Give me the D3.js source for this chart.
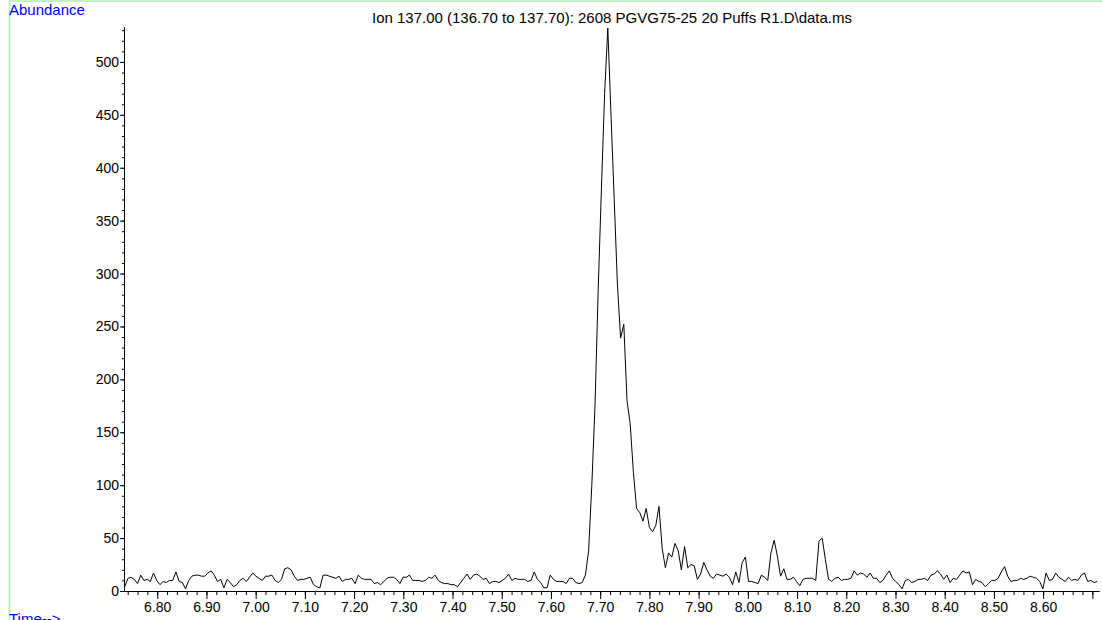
<!DOCTYPE html>
<html>
<head>
<meta charset="utf-8">
<script src="https://cdn.jsdelivr.net/npm/d3@7"></script>
<style>
  body { margin: 0; background: #fff; }
  svg { display: block; font-family: "Liberation Sans", Arial, sans-serif; }
</style>
</head>
<body>
<svg width="1102" height="620"></svg>
<script>

// scan times are regular: first scan + step * i (minutes)
let scanStart = 6.734,
    scanStep = 0.0065;

// abundance per scan
let abundance = [
  4,12,13,11,7,15,10,11,9,17,
  10,6,9,8,10,10,18,9,8,2,
  10,14,15,15,14,14,17,19,15,9,
  11,3,11,8,4,6,10,12,9,13,
  17,14,12,10,14,14,15,10,8,11,
  21,22,20,14,10,11,11,12,13,6,
  4,3,15,15,14,13,12,14,9,11,
  11,12,7,15,12,11,11,11,7,8,
  6,9,12,13,13,11,7,13,13,15,
  10,10,10,9,10,13,12,15,10,8,
  7,7,6,6,4,8,12,16,11,15,
  16,14,11,12,7,9,9,8,10,12,
  16,10,12,11,11,11,9,10,18,11,
  8,3,3,15,11,9,9,9,7,12,
  12,8,7,8,15,38,100,175,285,380,
  470,532,450,370,290,239,252,180,158,112,
  78,74,66,78,60,56,62,80,40,22,
  36,32,45,38,20,42,22,25,24,11,
  16,27,20,14,12,16,15,14,16,13,
  6,18,8,27,32,9,9,8,7,15,
  13,10,36,48,33,14,21,11,11,13,
  9,5,11,12,12,12,10,47,50,30,
  11,9,12,13,10,11,11,12,19,15,
  17,16,13,17,12,12,8,10,15,19,
  12,9,6,2,10,11,8,9,11,11,
  12,10,15,16,19,16,11,15,8,12,
  11,15,19,17,18,6,11,9,8,4,
  7,10,10,12,18,23,14,9,10,10,
  12,11,12,14,13,12,9,2,17,10,
  11,17,13,11,9,13,10,11,10,15,
  17,9,10,8,9
];

let timeRange = [6.7325, 8.7135],
    abundanceRange = [0, 533];

let xMajor = [6.8, 6.9, 7.0, 7.1, 7.2, 7.3, 7.4, 7.5, 7.6, 7.7, 7.8, 7.9, 8.0, 8.1, 8.2, 8.3, 8.4, 8.5, 8.6, 8.7],
    xLabelled = [6.8, 6.9, 7.0, 7.1, 7.2, 7.3, 7.4, 7.5, 7.6, 7.7, 7.8, 7.9, 8.0, 8.1, 8.2, 8.3, 8.4, 8.5, 8.6],
    yMajor = [0, 50, 100, 150, 200, 250, 300, 350, 400, 450, 500];

let title = "Ion 137.00 (136.70 to 137.70): 2608 PGVG75-25 20 Puffs R1.D\\data.ms";

let svg = d3.select("svg"),
    margin = {top: 27, right: 3, bottom: 29, left: 124},
    width = 1102 - margin.left - margin.right,
    height = 620 - margin.top - margin.bottom;

let points = abundance.map(function(v, i) { return [scanStart + scanStep * i, v]; });

let x = d3.scaleLinear().domain(timeRange).range([0, width]);
let y = d3.scaleLinear().domain(abundanceRange).range([height, 0]);

// minor ticks every 0.02 min and every 10 counts
let xMinor = d3.range(337, 436).map(function(k) { return k / 50; })
    .filter(function(t) { return t >= timeRange[0] && t <= timeRange[1]; });
let yMinor = d3.range(0, 531, 10);

// light green frame on the left and top
svg.append("line")
    .attr("x1", 9.5).attr("x2", 9.5)
    .attr("y1", 0).attr("y2", 620)
    .attr("stroke", "#aeeeae")
    .attr("stroke-width", 1.5);

svg.append("line")
    .attr("x1", 9).attr("x2", 1102)
    .attr("y1", 1).attr("y2", 1)
    .attr("stroke", "#aeeeae")
    .attr("stroke-width", 1.5);

let focus = svg.append("g")
    .attr("transform", "translate(" + margin.left + "," + margin.top + ")");

// axes
focus.append("g")
    .attr("class", "axis axis--x-minor")
    .attr("transform", "translate(0," + height + ")")
    .call(d3.axisBottom(x).tickValues(xMinor).tickSize(4).tickSizeOuter(0).tickFormat(""));

focus.append("g")
    .attr("class", "axis axis--x")
    .attr("transform", "translate(0," + height + ")")
    .call(d3.axisBottom(x).tickValues(xMajor).tickSize(8).tickSizeOuter(0).tickPadding(3)
        .tickFormat(function(d) { return xLabelled.indexOf(d) >= 0 ? d3.format(".2f")(d) : ""; }));

focus.append("g")
    .attr("class", "axis axis--y-minor")
    .call(d3.axisLeft(y).tickValues(yMinor).tickSize(2).tickSizeOuter(0).tickFormat(""));

focus.append("g")
    .attr("class", "axis axis--y")
    .call(d3.axisLeft(y).tickValues(yMajor).tickSize(4).tickSizeOuter(0).tickPadding(1));

focus.selectAll(".axis text")
    .attr("font-family", "Liberation Sans, Arial, sans-serif")
    .attr("font-size", 14)
    .attr("fill", "#000");

focus.selectAll(".axis path, .axis line")
    .attr("stroke", "#000");

// the ion trace
let line = d3.line()
    .x(function(d) { return x(d[0]); })
    .y(function(d) { return y(d[1]); });

focus.append("path")
    .datum(points)
    .attr("fill", "none")
    .attr("stroke", "#000")
    .attr("stroke-width", 1)
    .attr("stroke-linejoin", "round")
    .attr("d", line);

// texts
svg.append("text")
    .attr("x", 612)
    .attr("y", 23)
    .style("text-anchor", "middle")
    .style("font-size", "15px")
    .text(title);

svg.append("text")
    .attr("x", 9)
    .attr("y", 15)
    .style("font-size", "15px")
    .style("fill", "#0000ff")
    .text("Abundance");

svg.append("text")
    .attr("x", 9)
    .attr("y", 624)
    .style("font-size", "15px")
    .style("fill", "#0000ff")
    .text("Time-->");

</script>
</body>
</html>
